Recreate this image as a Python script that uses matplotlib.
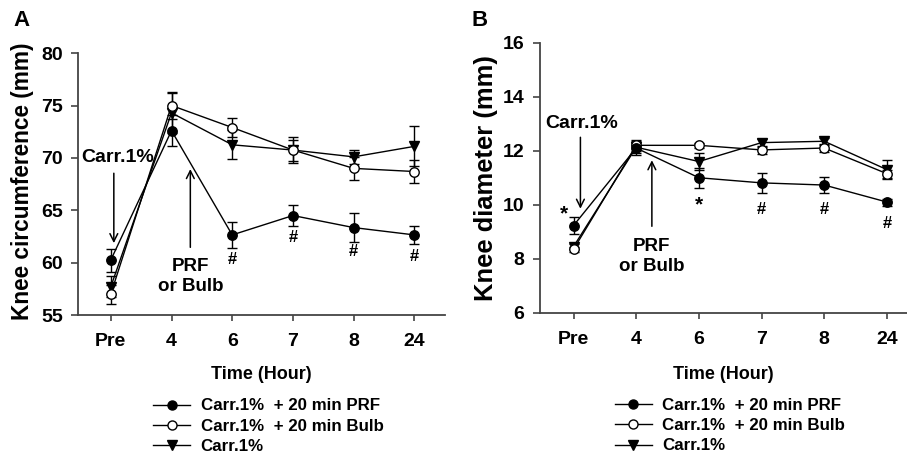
import matplotlib
matplotlib.use("Agg")
import matplotlib.pyplot as plt
from matplotlib.lines import Line2D

plt.rcParams["font.family"] = ["Liberation Sans", "DejaVu Sans"]
plt.rcParams["font.weight"] = "bold"

# categories on the x axis
times = ["Pre", "4", "6", "7", "8", "24"]

# panel A: knee circumference (mm)
a_prf = [60.25, 72.6, 62.65, 64.5, 63.35, 62.65]
a_prf_err = [1.1, 1.5, 1.25, 1.0, 1.35, 0.85]
a_bulb = [57.0, 75.0, 72.9, 70.75, 69.0, 68.7]
a_bulb_err = [0.9, 1.3, 0.95, 1.0, 1.1, 1.1]
a_carr = [57.7, 74.3, 71.25, 70.75, 70.1, 71.1]
a_carr_err = [1.0, 1.9, 1.4, 1.2, 0.7, 1.9]

# panel B: knee diameter (mm)
b_prf = [9.23, 12.1, 11.0, 10.81, 10.73, 10.1]
b_prf_err = [0.32, 0.25, 0.37, 0.37, 0.31, 0.13]
b_bulb = [8.35, 12.2, 12.2, 12.03, 12.1, 11.15]
b_bulb_err = [0.1, 0.2, 0.1, 0.15, 0.15, 0.15]
b_carr = [8.45, 12.13, 11.6, 12.3, 12.35, 11.3]
b_carr_err = [0.1, 0.2, 0.3, 0.15, 0.12, 0.35]

labels = ["Carr.1%  + 20 min PRF", "Carr.1%  + 20 min Bulb", "Carr.1%"]

fig = plt.figure(figsize=(9.07, 4.54), dpi=100)
axA = fig.add_axes([0.086, 0.306, 0.405, 0.577])
axB = fig.add_axes([0.595, 0.311, 0.405, 0.595])

x = list(range(len(times)))


def draw(ax, prf, prf_e, bulb, bulb_e, carr, carr_e):
    kw = dict(color="black", lw=1.0, ms=6.8, capsize=3.5, elinewidth=1.0,
              capthick=1.0, ecolor="black")
    ax.errorbar(x, carr, yerr=carr_e, marker="v", mfc="black", mec="black", **kw)
    ax.errorbar(x, bulb, yerr=bulb_e, marker="o", mfc="white", mec="black", **kw)
    ax.errorbar(x, prf, yerr=prf_e, marker="o", mfc="black", mec="black", **kw)
    for s in ["top", "right"]:
        ax.spines[s].set_visible(False)
    for s in ["left", "bottom"]:
        ax.spines[s].set_color("#444444")
        ax.spines[s].set_linewidth(1.3)
    ax.tick_params(direction="out", width=1.2, color="#444444", labelsize=14)
    ax.tick_params(axis="x", length=4, pad=9)
    ax.tick_params(axis="y", length=5, pad=6)
    ax.set_xticks(x)
    ax.set_xticklabels(times, fontweight="bold")
    ax.set_xlabel("Time (Hour)", fontsize=13, fontweight="bold")
    handles = [
        Line2D([], [], color="black", lw=1.0, marker="o", mfc="black", mec="black", ms=6.5),
        Line2D([], [], color="black", lw=1.0, marker="o", mfc="white", mec="black", ms=6.5),
        Line2D([], [], color="black", lw=1.0, marker="v", mfc="black", mec="black", ms=6.5),
    ]
    ax.legend(handles, labels, loc="upper center", bbox_to_anchor=(0.518, -0.26),
              frameon=False, handlelength=2.2, labelspacing=0.3,
              handletextpad=0.6, prop={"weight": "bold", "size": 12.2})


draw(axA, a_prf, a_prf_err, a_bulb, a_bulb_err, a_carr, a_carr_err)
axA.set_xlim(-0.54, 5.51)
axA.set_ylim(55, 80)
axA.set_yticks([55, 60, 65, 70, 75, 80])
axA.set_yticklabels(["55", "60", "65", "70", "75", "80"], fontweight="bold")
axA.set_ylabel("Knee circumference (mm)", fontsize=16.3, fontweight="bold")
axA.yaxis.set_label_coords(-0.12, 0.51)
axA.xaxis.set_label_coords(0.5, -0.195)

draw(axB, b_prf, b_prf_err, b_bulb, b_bulb_err, b_carr, b_carr_err)
axB.set_xlim(-0.54, 5.32)
axB.set_ylim(6, 16)
axB.set_yticks([6, 8, 10, 12, 14, 16])
axB.set_yticklabels(["6", "8", "10", "12", "14", "16"], fontweight="bold")
axB.set_ylabel("Knee diameter (mm)", fontsize=18.4, fontweight="bold")
axB.yaxis.set_label_coords(-0.114, 0.5)
axB.xaxis.set_label_coords(0.5, -0.196)

arrow = dict(arrowstyle="->", color="black", lw=1.1, mutation_scale=14)

# panel A annotations
axA.text(0.12, 70.0, "Carr.1%", ha="center", va="center", fontsize=14, fontweight="bold")
axA.annotate("", xy=(0.05, 61.6), xytext=(0.05, 68.8), arrowprops=arrow)
axA.annotate("", xy=(1.31, 69.2), xytext=(1.31, 61.2), arrowprops=arrow)
axA.text(1.31, 59.6, "PRF", ha="center", va="center", fontsize=13.5, fontweight="bold")
axA.text(1.31, 57.7, "or Bulb", ha="center", va="center", fontsize=13.5, fontweight="bold")
for xi, yi in [(2, 60.3), (3, 62.4), (4, 61.05), (5, 60.6)]:
    axA.text(xi, yi, "#", ha="center", va="center", fontsize=12, fontweight="bold")

# panel B annotations
axB.text(0.13, 13.0, "Carr.1%", ha="center", va="center", fontsize=14, fontweight="bold")
axB.annotate("", xy=(0.11, 9.75), xytext=(0.11, 12.6), arrowprops=arrow)
axB.annotate("", xy=(1.25, 11.75), xytext=(1.25, 9.1), arrowprops=arrow)
axB.text(1.25, 8.47, "PRF", ha="center", va="center", fontsize=13.5, fontweight="bold")
axB.text(1.25, 7.73, "or Bulb", ha="center", va="center", fontsize=13.5, fontweight="bold")
axB.text(-0.16, 9.65, "*", ha="center", va="center", fontsize=15, fontweight="bold")
axB.text(2, 10.0, "*", ha="center", va="center", fontsize=15, fontweight="bold")
for xi, yi in [(3, 9.83), (4, 9.83), (5, 9.3)]:
    axB.text(xi, yi, "#", ha="center", va="center", fontsize=12, fontweight="bold")

fig.text(0.024, 0.955, "A", fontsize=16, fontweight="bold", ha="center", va="center")
fig.text(0.529, 0.955, "B", fontsize=16, fontweight="bold", ha="center", va="center")

fig.savefig("out.png", dpi=100)
